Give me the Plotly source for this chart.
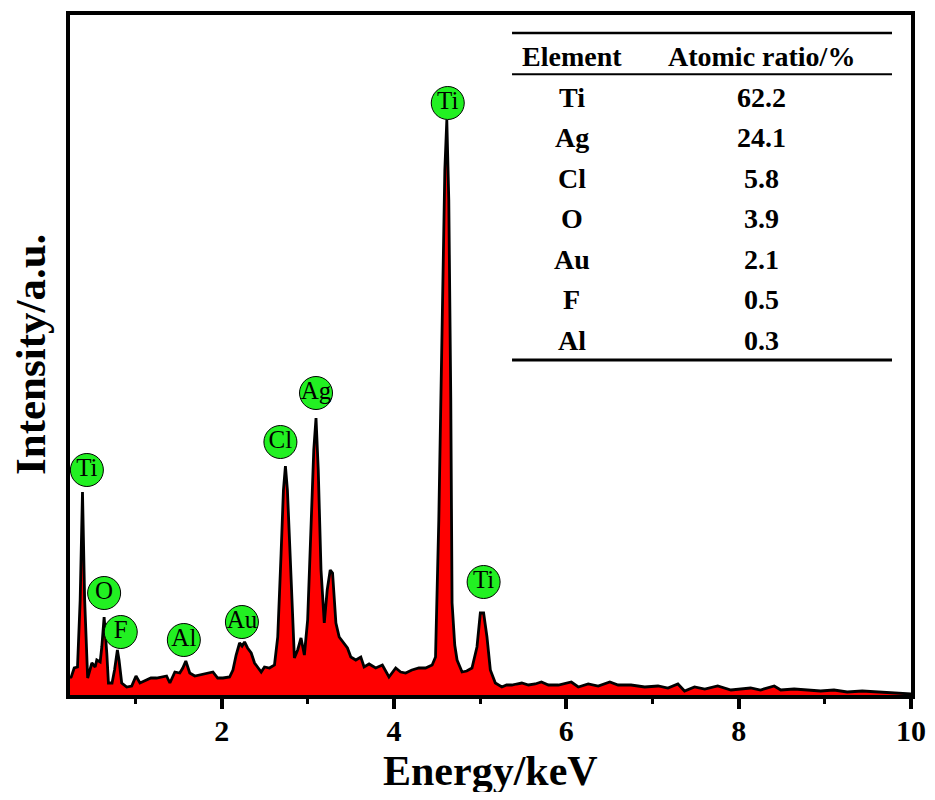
import plotly.graph_objects as go

# ---- spectrum data ----
energy_keV = [0.240, 0.254, 0.289, 0.327, 0.358, 0.385, 0.410, 0.436, 0.445, 0.494,
              0.532, 0.551, 0.590, 0.609, 0.636, 0.667, 0.686, 0.728, 0.757, 0.790,
              0.809, 0.840, 0.898, 0.956, 1.006, 1.052, 1.129, 1.179, 1.245, 1.295,
              1.361, 1.399, 1.457, 1.514, 1.549, 1.584, 1.630, 1.688, 1.746, 1.823,
              1.899, 1.954, 2.015, 2.092, 2.131, 2.168, 2.208, 2.237, 2.266, 2.301,
              2.343, 2.382, 2.420, 2.459, 2.497, 2.555, 2.613, 2.651, 2.690, 2.717,
              2.740, 2.763, 2.786, 2.824, 2.844, 2.882, 2.921, 2.960, 2.998, 3.040,
              3.069, 3.095, 3.121, 3.153, 3.191, 3.225, 3.260, 3.287, 3.326, 3.364,
              3.422, 3.460, 3.499, 3.557, 3.615, 3.653, 3.711, 3.788, 3.865, 3.942,
              4.020, 4.077, 4.135, 4.208, 4.289, 4.366, 4.443, 4.482, 4.520, 4.555,
              4.590, 4.613, 4.636, 4.659, 4.674, 4.705, 4.732, 4.790, 4.844, 4.905,
              4.963, 5.002, 5.040, 5.079, 5.118, 5.176, 5.252, 5.306, 5.368, 5.422,
              5.483, 5.561, 5.638, 5.711, 5.792, 5.908, 6.058, 6.139, 6.254, 6.370,
              6.505, 6.601, 6.751, 6.910, 7.064, 7.179, 7.295, 7.372, 7.488, 7.607,
              7.757, 7.911, 8.023, 8.139, 8.254, 8.413, 8.489, 8.644, 8.798, 8.951,
              9.106, 9.260, 9.434, 9.607, 9.800, 9.954, 10.000]
intensity = [17, 18, 27, 28, 95, 203, 95, 18, 17, 32,
             28, 35, 33, 48, 78, 42, 12, 12, 25, 45,
             35, 12, 8, 9, 19, 12, 15, 17, 17, 18,
             19, 12, 23, 22, 27, 34, 22, 19, 20, 22,
             23, 17, 17, 18, 25, 40, 52, 49, 53, 47,
             42, 32, 27, 23, 28, 27, 30, 58, 142, 205,
             229, 205, 158, 68, 37, 45, 57, 40, 75, 175,
             245, 277, 225, 125, 72, 105, 125, 122, 72, 58,
             52, 47, 38, 35, 38, 28, 31, 27, 30, 18,
             27, 23, 22, 25, 27, 27, 30, 38, 175, 365,
             525, 575, 495, 295, 92, 50, 35, 23, 24, 27,
             48, 82, 82, 58, 25, 12, 8, 10, 10, 11,
             12, 10, 11, 13, 10, 10, 13, 8, 11, 9,
             13, 10, 10, 8, 9, 7, 11, 4, 8, 6,
             9, 5, 6, 7, 5, 9, 5, 6, 5, 4,
             5, 3, 4, 3, 2, 1, 1]

# ---- peak labels ----
label_text = ["Ti", "O", "F", "Al", "Au", "Cl", "Ag", "Ti", "Ti"]
label_energy = [0.436, 0.636, 0.829, 1.561, 2.235, 2.682, 3.095, 4.624, 5.040]
label_intensity = [225, 102, 63, 55, 73, 253, 302, 592, 113]

# ---- table ----
table_header = ["Element", "Atomic ratio/%"]
table_elements = ["Ti", "Ag", "Cl", "O", "Au", "F", "Al"]
table_ratios = ["62.2", "24.1", "5.8", "3.9", "2.1", "0.5", "0.3"]

FONT = "Liberation Serif"

fig = go.Figure()
fig.add_trace(go.Scatter(
    x=energy_keV, y=intensity, mode="lines",
    line=dict(color="black", width=2.8),
    fill="tozeroy", fillcolor="#FF0000",
    showlegend=False, hoverinfo="skip"))

fig.add_trace(go.Scatter(
    x=label_energy, y=label_intensity, mode="markers+text",
    text=label_text, textposition="middle center",
    textfont=dict(family=FONT, size=25, color="black"),
    marker=dict(symbol="circle", size=33, color="#22F022",
                line=dict(color="black", width=1)),
    showlegend=False, hoverinfo="skip", cliponaxis=False))

fig.update_xaxes(
    range=[0.24, 10], showgrid=False, zeroline=False,
    showline=True, linecolor="black", linewidth=4, mirror=True,
    ticks="outside", ticklen=10, tickwidth=4, tickcolor="black",
    tick0=0, dtick=2, ticklabelstandoff=-4,
    tickfont=dict(family=FONT, size=30, color="black", weight="bold"),
    minor=dict(ticks="outside", ticklen=5, tickwidth=3, tickcolor="black",
               tick0=0, dtick=1),
    automargin=False)
fig.update_yaxes(
    range=[0, 680], showgrid=False, zeroline=False,
    showline=True, linecolor="black", linewidth=4, mirror=True,
    ticks="", showticklabels=False, automargin=False)

annotations = []
annotations.append(dict(text="Energy/keV", xref="paper", yref="paper",
                        x=0.5, y=0, yanchor="middle", yshift=-76, showarrow=False,
                        font=dict(family=FONT, size=42, color="black", weight="bold")))
annotations.append(dict(text="Intensity/a.u.", xref="paper", yref="paper",
                        x=0, y=0.5, xanchor="center", xshift=-40, textangle=-90,
                        showarrow=False,
                        font=dict(family=FONT, size=43, color="black", weight="bold")))

col_x = [0.5966, 0.8225]
header_y = 0.9387
row_y0 = 0.879
row_dy = 40.5 / 680
tfont = dict(family=FONT, size=28, color="black", weight="bold")
for cx, h in zip(col_x, table_header):
    annotations.append(dict(text=h, xref="paper", yref="paper", x=cx, y=header_y,
                            xanchor="center", yanchor="middle", showarrow=False, font=tfont))
for i, (el, r) in enumerate(zip(table_elements, table_ratios)):
    y = row_y0 - i * row_dy
    annotations.append(dict(text=el, xref="paper", yref="paper", x=col_x[0], y=y,
                            xanchor="center", yanchor="middle", showarrow=False, font=tfont))
    annotations.append(dict(text=r, xref="paper", yref="paper", x=col_x[1], y=y,
                            xanchor="center", yanchor="middle", showarrow=False, font=tfont))

shapes = []
for yy, w in [(0.9735, 2.5), (0.913, 2), (0.4926, 3)]:
    shapes.append(dict(type="line", xref="paper", yref="paper",
                       x0=0.5256, x1=0.9774, y0=yy, y1=yy,
                       line=dict(color="black", width=w)))

# the page body adds an 8px margin, so the figure is sized to fit the window
fig.update_layout(
    width=919, height=784,
    margin=dict(l=62, r=16, t=7, b=97),
    plot_bgcolor="white", paper_bgcolor="white",
    annotations=annotations, shapes=shapes,
    font=dict(family=FONT))

fig.write_html("out.html")
